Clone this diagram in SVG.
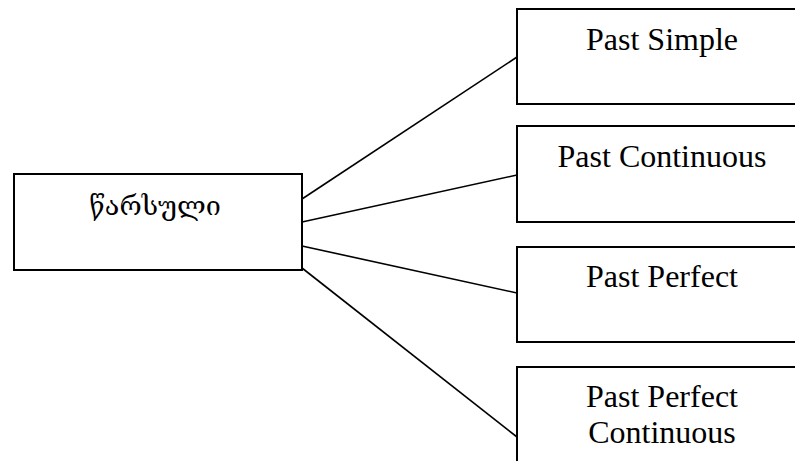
<svg xmlns="http://www.w3.org/2000/svg" width="795" height="461" viewBox="0 0 795 461">
  <style>
    .box { fill: #ffffff; stroke: #000000; stroke-width: 2; }
    .link { stroke: #000000; stroke-width: 1.6; fill: none; }
    .label { font-family: "Liberation Serif", "Times New Roman", serif; font-size: 32px; fill: #000000; text-anchor: middle; }
    .geo { font-family: "DejaVu Serif", "DejaVu Sans", serif; font-size: 27px; fill: #000000; text-anchor: middle; }
  </style>
  <rect width="795" height="461" fill="#ffffff"/>

  <g id="connectors">
    <line class="link" x1="302" y1="199" x2="517" y2="57"/>
    <line class="link" x1="302" y1="222" x2="517" y2="175"/>
    <line class="link" x1="302" y1="246" x2="517" y2="293"/>
    <line class="link" x1="302" y1="268" x2="517" y2="437"/>
  </g>

  <g id="past">
    <rect class="box" x="14" y="174" width="288" height="96"/>
    <text class="geo" x="155" y="215">წარსული</text>
  </g>

  <g id="past-simple">
    <rect class="box" x="517" y="9" width="300" height="95"/>
    <text class="label" x="662" y="50">Past Simple</text>
  </g>

  <g id="past-continuous">
    <rect class="box" x="517" y="126" width="300" height="96"/>
    <text class="label" x="662" y="167">Past Continuous</text>
  </g>

  <g id="past-perfect">
    <rect class="box" x="517" y="247" width="300" height="95"/>
    <text class="label" x="662" y="287">Past Perfect</text>
  </g>

  <g id="past-perfect-continuous">
    <rect class="box" x="517" y="367" width="300" height="110"/>
    <text class="label" x="662" y="407">Past Perfect</text>
    <text class="label" x="662" y="443">Continuous</text>
  </g>
</svg>
